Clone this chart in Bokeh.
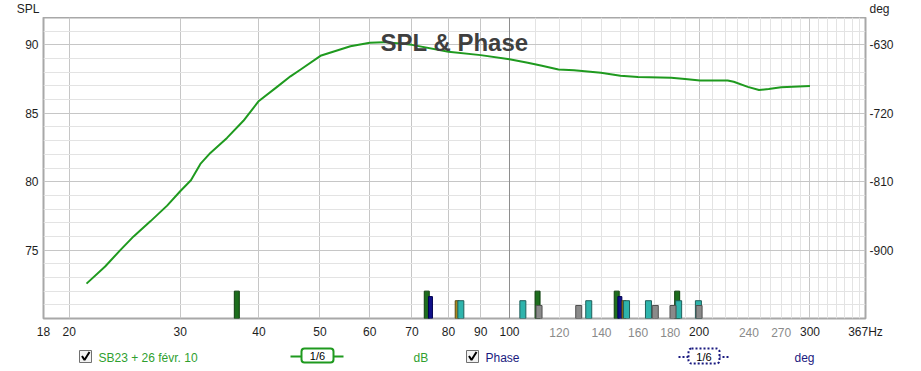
from bokeh.plotting import figure
from bokeh.models import (Range1d, LinearAxis, LogAxis, FixedTicker, Grid, Label)
from bokeh.layouts import column
from bokeh.embed import file_html
from bokeh.resources import INLINE
from bokeh.core.properties import value

# ---------------- data ----------------
freq = [21.3, 22.8, 24.1, 25.3, 26.9, 28.6, 30.0, 31.2, 32.3, 33.5, 35.6, 37.8, 40.0, 42.8,
        44.9, 46.6, 50.1, 55.9, 60.0, 63.1, 67.2, 70.0, 80.0, 90.0, 100.0, 106.9, 112.6,
        119.6, 126.6, 139.7, 150.0, 160.0, 180.6, 190.0, 200.6, 222.0, 227.0, 239.0, 249.0,
        258.0, 270.0, 300.0]
spl = [72.55, 73.8, 75.0, 76.0, 77.1, 78.25, 79.3, 80.1, 81.3, 82.1, 83.2, 84.45, 85.9, 86.95,
       87.7, 88.2, 89.2, 89.9, 90.15, 90.2, 90.1, 90.0, 89.5, 89.25, 88.95, 88.7, 88.47,
       88.2, 88.15, 87.96, 87.75, 87.65, 87.6, 87.5, 87.4, 87.4, 87.3, 86.93, 86.7,
       86.77, 86.9, 87.0]

# marker bars (frequency, top level in dB) per colour group
green_f = [36.9, 73.9, 110.8, 148.0, 184.6]
green_top = [72.0, 72.0, 72.0, 72.0, 72.0]
navy_f = [74.9, 149.7]
navy_top = [71.6, 71.6]
olive_f = [82.6, 152.0]
olive_top = [71.3, 71.3]
teal_f = [83.7, 105.0, 133.6, 153.4, 166.2, 185.6, 199.5]
teal_top = [71.3, 71.3, 71.3, 71.3, 71.3, 71.3, 71.3]
grey_f = [111.4, 128.8, 170.4, 181.8, 200.0]
grey_top = [70.95, 70.95, 70.95, 70.95, 70.95]

x_start, x_end = 18.2, 367.5
x_ticks = [18.2, 20, 30, 40, 50, 60, 70, 80, 90, 100, 200, 300, 367.5]
x_tick_labels = ["18", "20", "30", "40", "50", "60", "70", "80", "90", "100", "200", "300", "367Hz"]
x_ticks_grey = [120, 140, 160, 180, 240, 270]
x_ticks_grey_labels = ["120", "140", "160", "180", "240", "270"]
x_grid_major = [20, 30, 40, 50, 60, 70, 80, 90, 200, 300]
x_grid_minor = [110, 120, 130, 140, 150, 160, 170, 180, 190,
                210, 220, 230, 240, 250, 260, 270, 280, 290, 310, 320, 330, 340, 350, 360]
spl_range = (70, 92)
spl_ticks = [75, 80, 85, 90]
spl_grid_major = [75, 80, 85, 90]
spl_grid_minor = [71, 72, 73, 74, 76, 77, 78, 79, 81, 82, 83, 84, 86, 87, 88, 89, 91]
phase_range = (-990, -594)
phase_ticks = [-900, -810, -720, -630]

FONT = "Liberation Sans"
GREEN = "#1f9a1f"
GREEN_TXT = "#2f9f2f"
NAVY = "#1a1a80"
W = 921
FRAME_L, FRAME_R = 43, 56
TOP_H, MAIN_H, BOT_H = 17, 326, 28


def style_axis(ax, color="#1e1e1e"):
    ax.axis_line_color = None
    ax.major_tick_line_color = None
    ax.minor_tick_line_color = None
    ax.major_tick_out = 0
    ax.major_tick_in = 0
    ax.major_label_text_font = FONT
    ax.major_label_text_font_size = "12px"
    ax.major_label_text_color = color


# ---------------- top strip (axis names) ----------------
t = figure(width=W, height=TOP_H, x_range=Range1d(0, 1), y_range=Range1d(0, TOP_H),
           output_backend="svg", toolbar_location=None, x_axis_location=None,
           min_border_left=FRAME_L, min_border_right=FRAME_R, min_border_top=0,
           min_border_bottom=0)
t.grid.visible = False
t.outline_line_color = None
tl = t.yaxis[0]
tl.ticker = FixedTicker(ticks=[8.5])
tl.major_label_overrides = {8.5: "SPL"}
tr = LinearAxis(ticker=FixedTicker(ticks=[8.5]))
tr.major_label_overrides = {8.5: "deg"}
t.add_layout(tr, "right")
for ax in (tl, tr):
    style_axis(ax)
    ax.major_label_standoff = 4

# ---------------- main figure ----------------
p = figure(width=W, height=MAIN_H, x_axis_type="log", x_range=Range1d(x_start, x_end),
           y_range=Range1d(*spl_range), output_backend="svg", toolbar_location=None,
           min_border_left=FRAME_L, min_border_right=FRAME_R, min_border_top=0,
           min_border_bottom=25)
p.background_fill_color = "white"
p.border_fill_color = "white"
p.outline_line_color = "#a8a8a8"
p.outline_line_width = 2
p.extra_y_ranges = {"phase": Range1d(*phase_range)}

# grids
p.xgrid.ticker = FixedTicker(ticks=x_grid_major, minor_ticks=x_grid_minor)
p.xgrid.grid_line_color = "#c6c6c6"
p.xgrid.minor_grid_line_color = "#e3e3e3"
p.add_layout(Grid(dimension=0, ticker=FixedTicker(ticks=[100]), grid_line_color="#8e8e8e"))
p.ygrid.ticker = FixedTicker(ticks=spl_grid_major, minor_ticks=spl_grid_minor)
p.ygrid.grid_line_color = "#c6c6c6"
p.ygrid.minor_grid_line_color = "#e3e3e3"

# frequency axis: black labels, then grey labels drawn on the same row
xa = p.xaxis[0]
xa.ticker = FixedTicker(ticks=x_ticks)
xa.major_label_overrides = {tk: lb for tk, lb in zip(x_ticks, x_tick_labels)}
style_axis(xa)
xa.major_label_standoff = 6
xg = LogAxis(ticker=FixedTicker(ticks=x_ticks_grey))
xg.major_label_overrides = {tk: lb for tk, lb in zip(x_ticks_grey, x_ticks_grey_labels)}
style_axis(xg, "#8a8a8a")
xg.major_label_standoff = -14
p.add_layout(xg, "below")

# level axes
ya = p.yaxis[0]
ya.ticker = FixedTicker(ticks=spl_ticks)
style_axis(ya)
ya.major_label_standoff = 5
ra = LinearAxis(y_range_name="phase", ticker=FixedTicker(ticks=phase_ticks))
ra.major_label_overrides = {tk: str(tk) for tk in phase_ticks}
style_axis(ra)
ra.major_label_standoff = 4
p.add_layout(ra, "right")

# SPL curve
p.line(freq, spl, line_color=GREEN, line_width=2, line_join="round")

# marker bars
def bars(fs, tops, w, fill, line):
    base = spl_range[0]
    p.rect(x=fs, y=[(base + tp) / 2 for tp in tops], width=w, width_units="screen",
           height=[tp - base for tp in tops], fill_color=fill, line_color=line, line_width=1)

bars(green_f, green_top, 5, "#1d6e1d", "#0f3f0f")
bars(navy_f, navy_top, 4, "#10108a", "#000050")
bars(olive_f, olive_top, 4, "#a8861e", "#5a4a10")
bars(teal_f, teal_top, 6, "#2eb4ac", "#1f5f5a")
bars(grey_f, grey_top, 6, "#8a8a8a", "#505050")

# chart title inside the frame
p.add_layout(Label(x=454, y=25, x_units="canvas", y_units="canvas", text="SPL & Phase",
                   text_align="center", text_baseline="alphabetic", text_font=FONT,
                   text_font_size="24px", text_font_style="bold", text_color="#3f3f3f"))

# ---------------- legend row (frame aligned with main frame: x in window px) ----------------
q = figure(width=W, height=BOT_H, x_range=Range1d(FRAME_L, W - FRAME_R),
           y_range=Range1d(0, BOT_H), output_backend="svg", toolbar_location=None,
           x_axis_location=None, y_axis_location=None,
           min_border_left=FRAME_L, min_border_right=FRAME_R, min_border_top=0,
           min_border_bottom=0)
q.grid.visible = False
q.outline_line_color = None
q.background_fill_color = "white"
q.border_fill_color = "white"

def checkbox(x0):
    q.quad(left=x0, right=x0 + 12, bottom=9, top=21, fill_color="#f2f2f2", line_color="#707070")
    q.line(x=[x0 + 2.5, x0 + 5, x0 + 10], y=[15.5, 11.5, 19.5], line_color="black",
           line_width=2)

checkbox(79)
q.text(x=[98], y=[14], text=["SB23 + 26 févr. 10"], text_color=GREEN_TXT,
       text_font=value(FONT), text_font_size="12px", text_baseline="middle")
q.line(x=[290, 343], y=[15, 15], line_color=GREEN, line_width=2)
q.quad(left=301, right=333, bottom=9, top=23, fill_color="white", line_color=GREEN,
       line_width=2, border_radius=3)
q.text(x=[317], y=[15.5], text=["1/6"], text_color="black", text_font=value(FONT),
       text_font_size="11px", text_align="center", text_baseline="middle")
q.text(x=[413], y=[14], text=["dB"], text_color=GREEN_TXT, text_font=value(FONT),
       text_font_size="12px", text_baseline="middle")

checkbox(466)
q.text(x=[485], y=[14], text=["Phase"], text_color=NAVY, text_font=value(FONT),
       text_font_size="12px", text_baseline="middle")
q.line(x=[678, 728], y=[14.5, 14.5], line_color=NAVY, line_width=2, line_dash="2 2")
q.quad(left=688, right=719, bottom=8, top=23, fill_color="white", line_color=NAVY,
       line_width=2, line_dash="2 2", border_radius=3)
q.text(x=[703.5], y=[15], text=["1/6"], text_color="black", text_font=value(FONT),
       text_font_size="11px", text_align="center", text_baseline="middle")
q.text(x=[794], y=[14], text=["deg"], text_color=NAVY, text_font=value(FONT),
       text_font_size="12px", text_baseline="middle")

layout = column(t, p, q)
open("out.html", "w").write(file_html(layout, INLINE))
